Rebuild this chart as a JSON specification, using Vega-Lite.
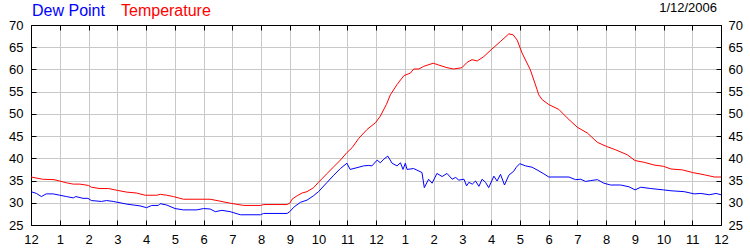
{
  "$schema": "https://vega.github.io/schema/vega-lite/v6.json",
  "width": 690,
  "height": 200,
  "autosize": {"type": "none"},
  "padding": {"left": 31, "top": 25, "right": 29, "bottom": 25},
  "background": "white",
  "title": {"text": "1/12/2006", "anchor": "end", "frame": "group", "font": "Liberation Sans", "fontSize": 13, "fontWeight": "normal", "color": "black", "offset": 0, "dx": -4, "dy": 12},
  "config": {
    "view": {"stroke": "black", "strokeWidth": 1},
    "axis": {"labelFont": "Liberation Sans", "labelFontSize": 13, "labelColor": "black", "tickColor": "black", "domainColor": "black", "gridColor": "#c8c8c8", "gridOpacity": 1, "tickSize": -5, "title": null}
  },
  "data": {"values": [
    {"hour":0,"series":"Dew Point","value":32.5},{"hour":0.19,"series":"Dew Point","value":32.1},{"hour":0.36,"series":"Dew Point","value":31.4},{"hour":0.53,"series":"Dew Point","value":32.0},{"hour":0.77,"series":"Dew Point","value":32.0},{"hour":1.0,"series":"Dew Point","value":31.7},{"hour":1.23,"series":"Dew Point","value":31.4},{"hour":1.47,"series":"Dew Point","value":31.1},{"hour":1.56,"series":"Dew Point","value":31.4},{"hour":1.81,"series":"Dew Point","value":31.0},{"hour":1.98,"series":"Dew Point","value":31.0},{"hour":2.1,"series":"Dew Point","value":30.5},{"hour":2.45,"series":"Dew Point","value":30.3},{"hour":2.63,"series":"Dew Point","value":30.5},{"hour":2.86,"series":"Dew Point","value":30.3},{"hour":3.33,"series":"Dew Point","value":29.7},{"hour":3.79,"series":"Dew Point","value":29.3},{"hour":4.02,"series":"Dew Point","value":28.9},{"hour":4.2,"series":"Dew Point","value":29.4},{"hour":4.43,"series":"Dew Point","value":29.4},{"hour":4.49,"series":"Dew Point","value":29.8},{"hour":4.72,"series":"Dew Point","value":29.5},{"hour":5.01,"series":"Dew Point","value":28.7},{"hour":5.3,"series":"Dew Point","value":28.4},{"hour":5.77,"series":"Dew Point","value":28.4},{"hour":6.0,"series":"Dew Point","value":28.7},{"hour":6.23,"series":"Dew Point","value":28.6},{"hour":6.41,"series":"Dew Point","value":28.0},{"hour":6.64,"series":"Dew Point","value":28.3},{"hour":6.93,"series":"Dew Point","value":28.0},{"hour":7.28,"series":"Dew Point","value":27.3},{"hour":7.98,"series":"Dew Point","value":27.3},{"hour":8.09,"series":"Dew Point","value":27.6},{"hour":8.91,"series":"Dew Point","value":27.6},{"hour":9.0,"series":"Dew Point","value":28.0},{"hour":9.14,"series":"Dew Point","value":29.0},{"hour":9.37,"series":"Dew Point","value":30.1},{"hour":9.6,"series":"Dew Point","value":30.6},{"hour":9.83,"series":"Dew Point","value":31.6},{"hour":10.0,"series":"Dew Point","value":32.5},{"hour":10.3,"series":"Dew Point","value":34.6},{"hour":10.53,"series":"Dew Point","value":36.2},{"hour":10.76,"series":"Dew Point","value":37.7},{"hour":10.99,"series":"Dew Point","value":38.9},{"hour":11.1,"series":"Dew Point","value":37.5},{"hour":11.34,"series":"Dew Point","value":37.9},{"hour":11.57,"series":"Dew Point","value":38.3},{"hour":11.75,"series":"Dew Point","value":38.4},{"hour":11.86,"series":"Dew Point","value":38.3},{"hour":12.04,"series":"Dew Point","value":39.6},{"hour":12.15,"series":"Dew Point","value":39.0},{"hour":12.27,"series":"Dew Point","value":39.8},{"hour":12.41,"series":"Dew Point","value":40.5},{"hour":12.56,"series":"Dew Point","value":38.9},{"hour":12.73,"series":"Dew Point","value":38.3},{"hour":12.85,"series":"Dew Point","value":39.0},{"hour":12.94,"series":"Dew Point","value":37.5},{"hour":13.02,"series":"Dew Point","value":38.9},{"hour":13.08,"series":"Dew Point","value":37.5},{"hour":13.31,"series":"Dew Point","value":37.7},{"hour":13.6,"series":"Dew Point","value":36.8},{"hour":13.68,"series":"Dew Point","value":33.4},{"hour":13.83,"series":"Dew Point","value":35.3},{"hour":13.95,"series":"Dew Point","value":34.4},{"hour":14.12,"series":"Dew Point","value":36.6},{"hour":14.3,"series":"Dew Point","value":35.9},{"hour":14.47,"series":"Dew Point","value":36.6},{"hour":14.65,"series":"Dew Point","value":35.3},{"hour":14.77,"series":"Dew Point","value":35.7},{"hour":14.88,"series":"Dew Point","value":35.1},{"hour":15.06,"series":"Dew Point","value":35.3},{"hour":15.15,"series":"Dew Point","value":33.8},{"hour":15.23,"series":"Dew Point","value":34.6},{"hour":15.35,"series":"Dew Point","value":34.2},{"hour":15.46,"series":"Dew Point","value":34.9},{"hour":15.58,"series":"Dew Point","value":33.7},{"hour":15.69,"series":"Dew Point","value":35.3},{"hour":15.81,"series":"Dew Point","value":34.6},{"hour":15.92,"series":"Dew Point","value":33.4},{"hour":16.1,"series":"Dew Point","value":36.0},{"hour":16.21,"series":"Dew Point","value":34.9},{"hour":16.33,"series":"Dew Point","value":36.4},{"hour":16.47,"series":"Dew Point","value":34.0},{"hour":16.62,"series":"Dew Point","value":36.2},{"hour":16.79,"series":"Dew Point","value":37.1},{"hour":16.88,"series":"Dew Point","value":38.0},{"hour":17.0,"series":"Dew Point","value":38.8},{"hour":17.2,"series":"Dew Point","value":38.3},{"hour":17.43,"series":"Dew Point","value":38.0},{"hour":17.6,"series":"Dew Point","value":37.4},{"hour":17.84,"series":"Dew Point","value":36.5},{"hour":18.01,"series":"Dew Point","value":35.8},{"hour":18.71,"series":"Dew Point","value":35.8},{"hour":18.94,"series":"Dew Point","value":35.2},{"hour":19.12,"series":"Dew Point","value":35.3},{"hour":19.29,"series":"Dew Point","value":34.8},{"hour":19.47,"series":"Dew Point","value":35.0},{"hour":19.7,"series":"Dew Point","value":35.2},{"hour":19.93,"series":"Dew Point","value":34.4},{"hour":20.16,"series":"Dew Point","value":34.0},{"hour":20.51,"series":"Dew Point","value":34.0},{"hour":20.8,"series":"Dew Point","value":33.6},{"hour":21.01,"series":"Dew Point","value":32.9},{"hour":21.21,"series":"Dew Point","value":33.5},{"hour":21.56,"series":"Dew Point","value":33.2},{"hour":22.0,"series":"Dew Point","value":32.9},{"hour":22.26,"series":"Dew Point","value":32.7},{"hour":22.72,"series":"Dew Point","value":32.5},{"hour":23.07,"series":"Dew Point","value":32.0},{"hour":23.3,"series":"Dew Point","value":32.1},{"hour":23.59,"series":"Dew Point","value":31.8},{"hour":23.83,"series":"Dew Point","value":32.1},{"hour":24.0,"series":"Dew Point","value":31.8},
    {"hour":0,"series":"Temperature","value":35.8},{"hour":0.4,"series":"Temperature","value":35.3},{"hour":0.8,"series":"Temperature","value":35.2},{"hour":1.0,"series":"Temperature","value":34.9},{"hour":1.23,"series":"Temperature","value":34.5},{"hour":1.47,"series":"Temperature","value":34.2},{"hour":1.7,"series":"Temperature","value":34.2},{"hour":2.0,"series":"Temperature","value":33.9},{"hour":2.1,"series":"Temperature","value":33.5},{"hour":2.4,"series":"Temperature","value":33.2},{"hour":2.7,"series":"Temperature","value":33.2},{"hour":3.0,"series":"Temperature","value":32.8},{"hour":3.33,"series":"Temperature","value":32.4},{"hour":3.67,"series":"Temperature","value":32.2},{"hour":3.97,"series":"Temperature","value":31.7},{"hour":4.37,"series":"Temperature","value":31.7},{"hour":4.5,"series":"Temperature","value":31.9},{"hour":4.72,"series":"Temperature","value":31.7},{"hour":4.95,"series":"Temperature","value":31.4},{"hour":5.3,"series":"Temperature","value":30.8},{"hour":6.23,"series":"Temperature","value":30.8},{"hour":6.47,"series":"Temperature","value":30.5},{"hour":6.93,"series":"Temperature","value":29.9},{"hour":7.4,"series":"Temperature","value":29.4},{"hour":7.98,"series":"Temperature","value":29.4},{"hour":8.1,"series":"Temperature","value":29.6},{"hour":8.9,"series":"Temperature","value":29.6},{"hour":9.0,"series":"Temperature","value":29.9},{"hour":9.08,"series":"Temperature","value":30.8},{"hour":9.26,"series":"Temperature","value":31.6},{"hour":9.43,"series":"Temperature","value":32.2},{"hour":9.6,"series":"Temperature","value":32.5},{"hour":9.83,"series":"Temperature","value":33.4},{"hour":10.0,"series":"Temperature","value":34.6},{"hour":10.3,"series":"Temperature","value":36.6},{"hour":10.53,"series":"Temperature","value":38.1},{"hour":10.76,"series":"Temperature","value":39.6},{"hour":10.99,"series":"Temperature","value":41.3},{"hour":11.17,"series":"Temperature","value":42.4},{"hour":11.4,"series":"Temperature","value":44.5},{"hour":11.69,"series":"Temperature","value":46.5},{"hour":11.98,"series":"Temperature","value":48.0},{"hour":12.15,"series":"Temperature","value":49.5},{"hour":12.36,"series":"Temperature","value":52.1},{"hour":12.5,"series":"Temperature","value":54.3},{"hour":12.73,"series":"Temperature","value":56.6},{"hour":12.97,"series":"Temperature","value":58.6},{"hour":13.2,"series":"Temperature","value":59.2},{"hour":13.31,"series":"Temperature","value":60.1},{"hour":13.49,"series":"Temperature","value":60.1},{"hour":13.66,"series":"Temperature","value":60.7},{"hour":13.99,"series":"Temperature","value":61.4},{"hour":14.18,"series":"Temperature","value":61.0},{"hour":14.47,"series":"Temperature","value":60.4},{"hour":14.7,"series":"Temperature","value":60.1},{"hour":14.99,"series":"Temperature","value":60.4},{"hour":15.17,"series":"Temperature","value":61.6},{"hour":15.34,"series":"Temperature","value":62.2},{"hour":15.52,"series":"Temperature","value":61.9},{"hour":15.75,"series":"Temperature","value":62.9},{"hour":16.0,"series":"Temperature","value":64.4},{"hour":16.33,"series":"Temperature","value":66.3},{"hour":16.62,"series":"Temperature","value":68.0},{"hour":16.77,"series":"Temperature","value":67.8},{"hour":16.91,"series":"Temperature","value":66.6},{"hour":17.08,"series":"Temperature","value":63.7},{"hour":17.37,"series":"Temperature","value":59.9},{"hour":17.6,"series":"Temperature","value":55.5},{"hour":17.66,"series":"Temperature","value":54.3},{"hour":17.78,"series":"Temperature","value":53.2},{"hour":18.01,"series":"Temperature","value":52.1},{"hour":18.36,"series":"Temperature","value":51.0},{"hour":18.65,"series":"Temperature","value":49.1},{"hour":19.0,"series":"Temperature","value":47.0},{"hour":19.35,"series":"Temperature","value":45.7},{"hour":19.7,"series":"Temperature","value":43.6},{"hour":20.01,"series":"Temperature","value":42.7},{"hour":20.34,"series":"Temperature","value":41.9},{"hour":20.74,"series":"Temperature","value":40.8},{"hour":21.01,"series":"Temperature","value":39.5},{"hour":21.33,"series":"Temperature","value":39.1},{"hour":21.67,"series":"Temperature","value":38.5},{"hour":22.0,"series":"Temperature","value":38.2},{"hour":22.26,"series":"Temperature","value":37.6},{"hour":22.66,"series":"Temperature","value":37.4},{"hour":23.01,"series":"Temperature","value":36.8},{"hour":23.42,"series":"Temperature","value":36.3},{"hour":23.77,"series":"Temperature","value":35.8},{"hour":24.0,"series":"Temperature","value":35.8}
  ]},
  "layer": [
    {
      "mark": {"type": "line", "strokeWidth": 1, "interpolate": "linear"},
      "encoding": {
        "x": {"field": "hour", "type": "quantitative", "scale": {"domain": [0, 24], "nice": false, "zero": false},
              "axis": {"orient": "bottom", "values": [0,1,2,3,4,5,6,7,8,9,10,11,12,13,14,15,16,17,18,19,20,21,22,23,24], "labelExpr": "datum.value % 12 == 0 ? '12' : '' + (datum.value % 12)", "grid": true, "labelPadding": 13, "labelFlush": false, "labelOverlap": false}},
        "y": {"field": "value", "type": "quantitative", "scale": {"domain": [25, 70], "nice": false, "zero": false},
              "axis": {"orient": "left", "values": [25,30,35,40,45,50,55,60,65,70], "grid": true, "labelPadding": 13, "labelFlush": false, "labelOverlap": false}},
        "color": {"field": "series", "type": "nominal", "scale": {"domain": ["Dew Point", "Temperature"], "range": ["#0000ff", "#ff0000"]},
                  "legend": {"orient": "none", "legendX": -15, "legendY": -22, "direction": "horizontal", "title": null, "padding": 0, "symbolSize": 0, "symbolStrokeWidth": 0, "symbolOpacity": 0, "labelOffset": 0, "columnPadding": -1, "labelFont": "Liberation Sans", "labelFontSize": 16, "labelColor": {"expr": "datum.value == 'Dew Point' ? '#0000ff' : '#ff0000'"}}}
      }
    },
    {
      "mark": {"type": "line", "opacity": 0},
      "encoding": {
        "x": {"field": "hour", "type": "quantitative", "scale": {"domain": [0, 24], "nice": false, "zero": false},
              "axis": {"orient": "top", "values": [0,1,2,3,4,5,6,7,8,9,10,11,12,13,14,15,16,17,18,19,20,21,22,23,24], "labels": false, "grid": false}},
        "y": {"field": "value", "type": "quantitative", "scale": {"domain": [25, 70], "nice": false, "zero": false},
              "axis": {"orient": "right", "values": [25,30,35,40,45,50,55,60,65,70], "grid": false, "labelPadding": 12, "labelFlush": false, "labelOverlap": false}},
        "detail": {"field": "series", "type": "nominal"}
      }
    }
  ],
  "resolve": {"scale": {"x": "independent", "y": "independent"}, "axis": {"x": "independent", "y": "independent"}}
}
